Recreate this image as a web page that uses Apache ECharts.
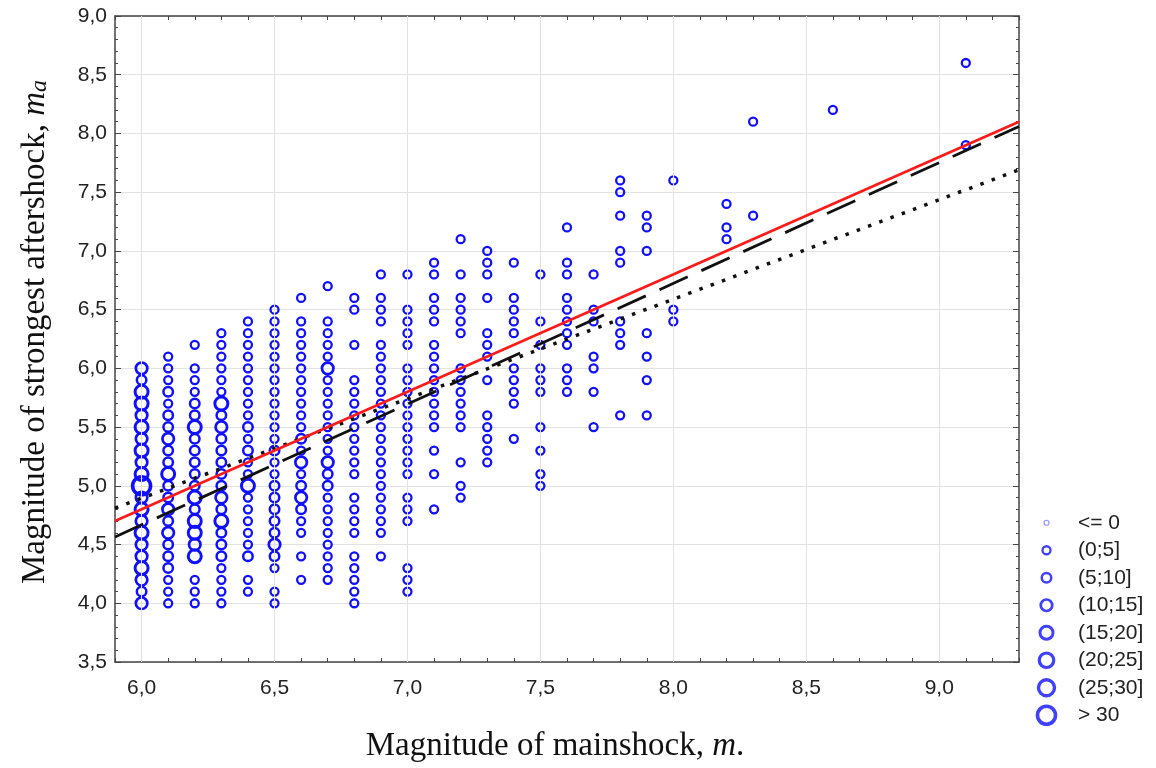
<!DOCTYPE html>
<html><head><meta charset="utf-8">
<script src="https://cdn.jsdelivr.net/npm/echarts@6/dist/echarts.min.js"></script>
<style>html,body{margin:0;padding:0;background:#fff}#c{width:1156px;height:768px}</style>
</head><body><div id="c"></div>
<script>
// size classes (number of events)
const classLabels = ['<= 0', '(0;5]', '(5;10]', '(10;15]', '(15;20]', '(20;25]', '(25;30]', '> 30'];

// x tick labels / y tick labels
const xTicks = [6.0, 6.5, 7.0, 7.5, 8.0, 8.5, 9.0];
const yTicks = [3.5, 4.0, 4.5, 5.0, 5.5, 6.0, 6.5, 7.0, 7.5, 8.0, 8.5, 9.0];

// aftershock magnitudes per mainshock magnitude column (class (0;5] unless listed in big*)
const c60 = [6.0,5.9,5.8,5.7,5.6,5.5,5.4,5.3,5.2,5.1,5.0,4.9,4.8,4.7,4.6,4.5,4.4,4.3,4.2,4.1,4.0];
const big60 = [[6.0,3],[5.9,2],[5.8,4],[5.7,4],[5.6,3],[5.5,4],[5.4,3],[5.3,4],[5.2,3],[5.1,4],[5.0,7],[4.9,3],[4.8,4],[4.7,3],[4.6,4],[4.5,3],[4.4,3],[4.3,4],[4.2,3],[4.1,2],[4.0,3]];
const c61 = [6.1,6.0,5.9,5.8,5.7,5.6,5.5,5.4,5.3,5.2,5.1,5.0,4.9,4.8,4.7,4.6,4.5,4.4,4.3,4.2,4.1,4.0];
const big61 = [[5.8,2],[5.6,2],[5.5,2],[5.4,3],[5.3,2],[5.2,2],[5.1,4],[5.0,2],[4.9,2],[4.8,3],[4.7,2],[4.6,3],[4.5,2],[4.4,2],[4.3,2]];
const c62 = [6.2,6.0,5.9,5.8,5.7,5.6,5.5,5.4,5.3,5.2,5.1,5.0,4.9,4.8,4.7,4.6,4.5,4.4,4.2,4.1,4.0];
const big62 = [[5.7,2],[5.6,2],[5.5,4],[5.4,2],[5.3,2],[5.2,2],[5.1,2],[5.0,2],[4.9,4],[4.8,2],[4.7,4],[4.6,4],[4.5,3],[4.4,4]];
const c63 = [6.3,6.2,6.1,6.0,5.9,5.8,5.7,5.6,5.5,5.4,5.3,5.2,5.1,5.0,4.9,4.8,4.7,4.6,4.5,4.4,4.3,4.2,4.1,4.0];
const big63 = [[5.7,4],[5.6,2],[5.5,3],[5.4,2],[5.3,2],[5.2,2],[5.1,2],[5.0,2],[4.9,3],[4.8,2],[4.7,4],[4.6,2],[4.5,2],[4.4,2]];
const c64 = [6.4,6.3,6.2,6.1,6.0,5.9,5.8,5.7,5.6,5.5,5.4,5.3,5.2,5.1,5.0,4.9,4.8,4.7,4.6,4.5,4.4,4.2,4.1];
const big64 = [[5.5,2],[5.3,2],[5.0,4],[4.4,2]];
const c65 = [6.5,6.4,6.3,6.2,6.1,6.0,5.9,5.8,5.7,5.6,5.5,5.4,5.3,5.2,5.1,5.0,4.9,4.8,4.7,4.6,4.5,4.4,4.3,4.1,4.0];
const big65 = [[5.3,2],[5.0,2],[4.9,2],[4.8,2],[4.7,2],[4.6,2],[4.5,3],[4.4,2]];
const c66 = [6.6,6.4,6.3,6.2,6.1,6.0,5.9,5.8,5.7,5.6,5.5,5.4,5.3,5.2,5.1,5.0,4.9,4.8,4.7,4.6,4.4,4.2];
const big66 = [[5.4,2],[5.2,3],[5.0,2],[4.9,3],[4.8,2]];
const c67 = [6.7,6.4,6.3,6.2,6.1,6.0,5.9,5.8,5.7,5.6,5.5,5.4,5.3,5.2,5.1,5.0,4.9,4.8,4.7,4.6,4.5,4.4,4.3,4.2];
const big67 = [[6.0,3],[5.2,3],[5.1,2],[5.0,2]];
const c68 = [6.6,6.5,6.2,5.9,5.8,5.7,5.6,5.5,5.4,5.3,5.2,5.1,4.9,4.8,4.7,4.6,4.4,4.3,4.2,4.1,4.0];
const c69 = [6.8,6.6,6.5,6.4,6.2,6.1,6.0,5.9,5.8,5.7,5.6,5.5,5.4,5.3,5.2,5.1,5.0,4.9,4.8,4.7,4.6,4.4];
const c70 = [6.8,6.5,6.4,6.3,6.2,6.0,5.9,5.8,5.7,5.6,5.5,5.4,5.3,5.2,5.1,4.9,4.8,4.7,4.3,4.2,4.1];
const c71 = [6.9,6.8,6.6,6.5,6.4,6.2,6.1,6.0,5.9,5.8,5.7,5.6,5.5,5.3,5.1,4.8];
const c72 = [7.1,6.8,6.6,6.5,6.4,6.3,6.0,5.9,5.8,5.7,5.6,5.5,5.2,5.0,4.9];
const c73 = [7.0,6.9,6.8,6.6,6.3,6.2,6.1,5.9,5.6,5.5,5.4,5.3,5.2];
const c74 = [6.9,6.6,6.5,6.4,6.3,6.0,5.9,5.8,5.7,5.4];
const c75 = [6.8,6.4,6.2,6.0,5.9,5.8,5.5,5.3,5.1,5.0];
const c76 = [7.2,6.9,6.8,6.6,6.5,6.4,6.3,6.2,6.0,5.9,5.8];
const c77 = [6.8,6.5,6.4,6.1,6.0,5.8,5.5];
const c78 = [7.6,7.5,7.3,7.0,6.9,6.4,6.3,6.2,5.6];
const c79 = [7.3,7.2,7.0,6.3,6.1,5.9,5.6];
const c80 = [7.6,6.5,6.4];
const c82 = [7.4,7.2,7.1];
const c83 = [8.1,7.3];
const c86 = [8.2];
const c91 = [8.6,7.9];

const columns = [
  [6.0, c60, big60], [6.1, c61, big61], [6.2, c62, big62], [6.3, c63, big63],
  [6.4, c64, big64], [6.5, c65, big65], [6.6, c66, big66], [6.7, c67, big67],
  [6.8, c68, []], [6.9, c69, []], [7.0, c70, []], [7.1, c71, []], [7.2, c72, []],
  [7.3, c73, []], [7.4, c74, []], [7.5, c75, []], [7.6, c76, []], [7.7, c77, []],
  [7.8, c78, []], [7.9, c79, []], [8.0, c80, []], [8.2, c82, []], [8.3, c83, []],
  [8.6, c86, []], [9.1, c91, []]
];

// regression lines (end points)
const redLine = [[5.9, 4.70], [9.3, 8.10]];
const dashLine = [[5.9, 4.565], [9.3, 8.06]];
const dotLine = [[5.9, 4.81], [9.3, 7.69]];

// ---- styling ----
const BLUE = '#1010ff';
const symSizes = [5, 8, 9.5, 11.5, 13, 14.5, 16, 18];
const symBorders = [1.2, 2.3, 2.5, 2.7, 3, 3.2, 3.4, 3.6];

const byClass = classLabels.map(() => []);
columns.forEach(([m, vals, big]) => {
  vals.forEach(v => {
    const b = big.find(p => p[0] === v);
    byClass[b ? b[1] : 1].push([m, v]);
  });
});

const fmt = v => v.toFixed(1).replace('.', ',');
const isHalf = v => Math.abs(v * 2 - Math.round(v * 2)) < 1e-6;
const axisColor = '#444';
const SANS = "'Liberation Sans', Arial, sans-serif";
const SERIF = "'Liberation Serif', 'Times New Roman', serif";

const scatterSeries = byClass.map((pts, i) => ({
  type: 'scatter', name: classLabels[i], data: pts,
  xAxisIndex: 0, yAxisIndex: 0,
  symbol: 'circle', symbolSize: symSizes[i], z: 3,
  itemStyle: { color: 'rgba(0,0,0,0)', borderColor: BLUE, borderWidth: symBorders[i], opacity: 1 },
  silent: true
}));

const lineBase = { type: 'line', xAxisIndex: 0, yAxisIndex: 0, showSymbol: false, symbol: 'none', z: 6, silent: true, animation: false };

const option = {
  animation: false,
  backgroundColor: '#fff',
  grid: [
    { left: 115, right: 137, top: 16, bottom: 95 },
    { left: 1030, width: 33, top: 509, height: 220 }
  ],
  xAxis: [
    { type: 'value', gridIndex: 0, min: 5.9, max: 9.3, interval: 0.1, position: 'bottom',
      axisLine: { show: true, onZero: false, lineStyle: { color: axisColor, width: 1.5 } },
      axisTick: { show: true, inside: true, length: 4, lineStyle: { color: axisColor } },
      axisLabel: { margin: 16, fontFamily: SANS, fontSize: 21, color: '#222',
        formatter: v => isHalf(v) ? fmt(v) : '' },
      splitLine: { show: false },
      name: 'Magnitude of mainshock, {i|m}.', nameLocation: 'middle', nameGap: 68,
      nameTextStyle: { fontFamily: SERIF, fontSize: 33, color: '#111', padding: [0, 24, 0, 0],
        rich: { i: { fontFamily: SERIF, fontSize: 33, fontStyle: 'italic', color: '#111' } } }
    },
    { type: 'value', gridIndex: 0, min: 5.9, max: 9.3, interval: 0.1, position: 'top',
      axisLine: { show: true, onZero: false, lineStyle: { color: axisColor, width: 1.5 } },
      axisTick: { show: true, inside: true, length: 4, lineStyle: { color: axisColor } },
      axisLabel: { show: false }, splitLine: { show: false } },
    { type: 'value', gridIndex: 1, min: 0, max: 1, show: false }
  ],
  yAxis: [
    { type: 'value', gridIndex: 0, min: 3.5, max: 9.0, interval: 0.5, position: 'left',
      axisLine: { show: true, onZero: false, lineStyle: { color: axisColor, width: 1.5 } },
      axisTick: { show: true, inside: true, length: 6, lineStyle: { color: axisColor } },
      minorTick: { show: true, splitNumber: 5, length: 3, lineStyle: { color: axisColor } },
      axisLabel: { margin: 8, fontFamily: SANS, fontSize: 21, color: '#222', formatter: v => fmt(v) },
      splitLine: { show: true, lineStyle: { color: '#e2e2e2', width: 1 } },
      name: 'Magnitude of strongest aftershock, {i|m}{s|a}', nameLocation: 'middle', nameGap: 63,
      nameTextStyle: { fontFamily: SERIF, fontSize: 33, color: '#111', padding: [0, 0, 0, 14],
        rich: { i: { fontFamily: SERIF, fontSize: 33, fontStyle: 'italic', color: '#111' },
                s: { fontFamily: SERIF, fontSize: 24, fontStyle: 'italic', color: '#111', verticalAlign: 'bottom', lineHeight: 32 } } }
    },
    { type: 'value', gridIndex: 0, min: 3.5, max: 9.0, interval: 0.5, position: 'right',
      axisLine: { show: true, onZero: false, lineStyle: { color: axisColor, width: 1.5 } },
      axisTick: { show: true, inside: true, length: 6, lineStyle: { color: axisColor } },
      minorTick: { show: true, splitNumber: 5, length: 3, lineStyle: { color: axisColor } },
      axisLabel: { show: false }, splitLine: { show: false } },
    { type: 'category', gridIndex: 1, data: classLabels, inverse: true, position: 'right',
      axisLine: { show: false }, axisTick: { show: false }, splitLine: { show: false },
      axisLabel: { margin: 15, fontFamily: SANS, fontSize: 21, color: '#222', align: 'left' } }
  ],
  series: [
    // vertical grid lines at labelled x ticks
    { type: 'scatter', xAxisIndex: 0, yAxisIndex: 0, data: [], silent: true,
      markLine: { silent: true, symbol: 'none', animation: false, label: { show: false },
        lineStyle: { color: '#e2e2e2', width: 1, type: 'solid' },
        data: xTicks.map(x => ({ xAxis: x })) } },
    ...scatterSeries,
    Object.assign({}, lineBase, { data: dotLine, lineStyle: { color: '#111', width: 3.5, type: [3.5, 8.5] } }),
    Object.assign({}, lineBase, { data: dashLine, lineStyle: { color: '#111', width: 2.8, type: [31, 15] } }),
    Object.assign({}, lineBase, { data: redLine, lineStyle: { color: '#ff1a1a', width: 2.6 } }),
    // legend drawn in its own small grid
    { type: 'scatter', xAxisIndex: 2, yAxisIndex: 2, silent: true, z: 3,
      data: classLabels.map((l, i) => ({
        value: [0.5, l], symbolSize: symSizes[i],
        itemStyle: { color: 'rgba(0,0,0,0)', borderColor: i === 0 ? '#7a7aff' : BLUE, borderWidth: symBorders[i] }
      })) }
  ]
};

const chart = echarts.init(document.getElementById('c'), null, { renderer: 'canvas' });
chart.setOption(option);
</script>
</body></html>
